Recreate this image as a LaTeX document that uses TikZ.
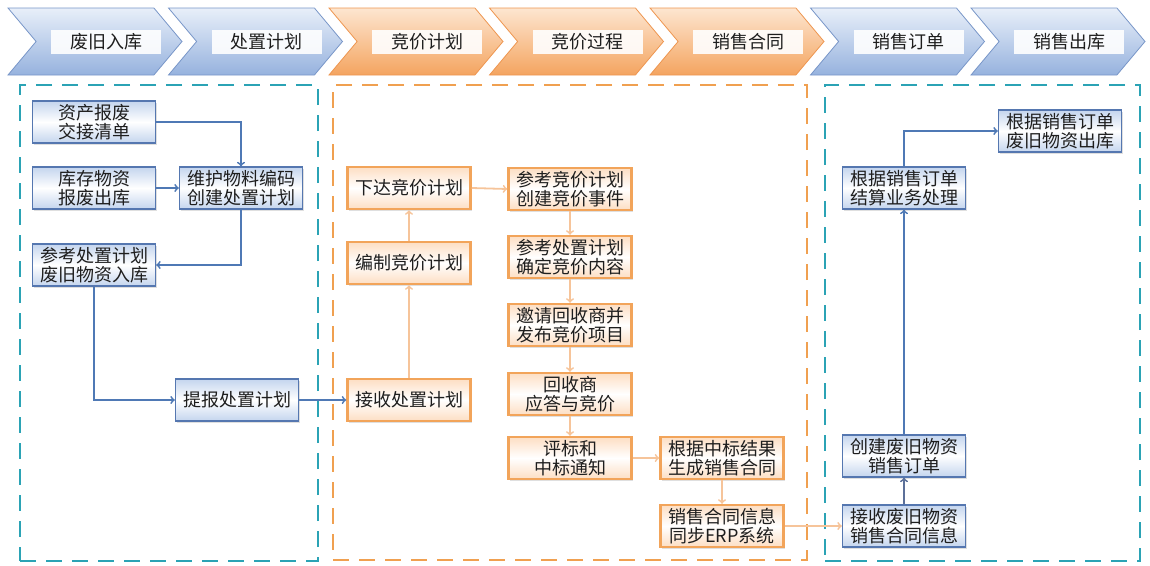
\documentclass[tikz,border=0pt]{standalone}
\usepackage{fontspec}
\setmainfont{Noto Sans CJK SC}
\usepackage{tikz}
\usetikzlibrary{shapes,arrows,positioning,shadows}
\usepackage{xcolor}
\definecolor{chevbluetop}{RGB}{232, 239, 249}
\definecolor{chevbluebot}{RGB}{150, 178, 222}
\definecolor{chevblueline}{RGB}{120, 150, 200}
\definecolor{chevorangetop}{RGB}{253, 230, 208}
\definecolor{chevorangebot}{RGB}{244, 164, 96}
\definecolor{chevorangeline}{RGB}{238, 150, 80}
\definecolor{boxblueline}{RGB}{85, 119, 176}
\definecolor{boxbluefill}{RGB}{196, 213, 238}
\definecolor{boxorangeline}{RGB}{242, 164, 90}
\definecolor{boxorangefill}{RGB}{253, 222, 195}
\definecolor{panelteal}{RGB}{43, 163, 181}
\definecolor{panelorange}{RGB}{240, 160, 80}
\definecolor{arrowblue}{RGB}{79, 121, 181}
\definecolor{arroworange}{RGB}{246, 196, 154}
\definecolor{arrowgrey}{RGB}{92, 112, 153}
\definecolor{textgrey}{RGB}{30, 30, 30}

\begin{document}
\begin{tikzpicture}[
    x=1pt, y=-1pt,
    chev/.style={signal, signal to=east, signal from=west, signal pointer angle=100, minimum width=174pt, minimum height=67pt, inner sep=0pt, line width=0.8pt},
    bluechev/.style={chev, draw=chevblueline, top color=chevbluetop, bottom color=chevbluebot},
    orangechev/.style={chev, draw=chevorangeline, top color=chevorangetop, bottom color=chevorangebot},
    chevtext/.style={rectangle, fill=white, fill opacity=0.9, text opacity=1, text=textgrey, minimum width=110pt, minimum height=24pt, inner sep=0pt, font=\fontsize{18}{19}\selectfont},
    panel/.style={rectangle, line width=2.5pt, dash pattern=on 16pt off 10pt},
    box/.style={rectangle, minimum width=123pt, minimum height=42pt, inner sep=1pt, align=center, text=textgrey, font=\fontsize{18}{19}\selectfont, drop shadow={opacity=0.25, shadow xshift=1.5pt, shadow yshift=-1.5pt}},
    bluebox/.style={box, draw=boxblueline, line width=1.3pt, top color=boxbluefill, bottom color=boxbluefill, middle color=white},
    orangebox/.style={box, draw=boxorangeline, line width=2.5pt, top color=boxorangefill, bottom color=boxorangefill, middle color=white},
    arrow/.style={->, >=to, line width=1.8pt},
    bluearrow/.style={arrow, arrowblue},
    orangearrow/.style={arrow, arroworange},
    greyarrow/.style={arrow, arrowgrey}
]
    \useasboundingbox (0,0) rectangle (1150,565);

    % Stage chevrons
    \node[bluechev] (sWaste) at (95,41.5) {};
    \node[bluechev] (sPlan) at (255.5,41.5) {};
    \node[orangechev] (sBidPlan) at (416,41.5) {};
    \node[orangechev] (sBidding) at (576.5,41.5) {};
    \node[orangechev] (sContract) at (737,41.5) {};
    \node[bluechev] (sOrder) at (897.5,41.5) {};
    \node[bluechev] (sOut) at (1058,41.5) {};

    \node[chevtext] (lWaste) at ([xshift=11pt]sWaste.center) {废旧入库};
    \node[chevtext] (lPlan) at ([xshift=11pt]sPlan.center) {处置计划};
    \node[chevtext] (lBidPlan) at ([xshift=11pt]sBidPlan.center) {竞价计划};
    \node[chevtext] (lBidding) at ([xshift=11pt]sBidding.center) {竞价过程};
    \node[chevtext] (lContract) at ([xshift=11pt]sContract.center) {销售合同};
    \node[chevtext] (lOrder) at ([xshift=11pt]sOrder.center) {销售订单};
    \node[chevtext] (lOut) at ([xshift=11pt]sOut.center) {销售出库};

    % Panels
    \node[panel, draw=panelteal, minimum width=298pt, minimum height=476pt] (pLeft) at (169,323) {};
    \node[panel, draw=panelorange, minimum width=474pt, minimum height=475pt] (pMid) at (570,322.5) {};
    \node[panel, draw=panelteal, minimum width=315pt, minimum height=476pt] (pRight) at (982.5,323) {};

    % Disposal plan
    \node[bluebox] (scrapList) at (94,122) {资产报废\\交接清单};
    \node[bluebox] (stockOut) at (94,188) {库存物资\\报废出库};
    \node[bluebox] (maintain) at (241,188) {维护物料编码\\创建处置计划};
    \node[bluebox] (storeIn) at (94,265) {参考处置计划\\废旧物资入库};
    \node[bluebox] (report) at (237,400) {提报处置计划};

    % Bidding
    \node[orangebox] (issue) at (409,188) {下达竞价计划};
    \node[orangebox] (compile) at (409,263) {编制竞价计划};
    \node[orangebox] (receive) at (409,400) {接收处置计划};
    \node[orangebox] (createEvent) at (570,189) {参考竞价计划\\创建竞价事件};
    \node[orangebox] (content) at (570,257) {参考处置计划\\确定竞价内容};
    \node[orangebox] (invite) at (570,325) {邀请回收商并\\发布竞价项目};
    \node[orangebox] (respond) at (570,394) {回收商\\应答与竞价};
    \node[orangebox] (award) at (570,458) {评标和\\中标通知};
    \node[orangebox] (genContract) at (722,458) {根据中标结果\\生成销售合同};
    \node[orangebox] (syncErp) at (722,526) {销售合同信息\\同步ERP系统};

    % Sales
    \node[bluebox] (outStock) at (1060,131) {根据销售订单\\废旧物资出库};
    \node[bluebox] (settle) at (904,188) {根据销售订单\\结算业务处理};
    \node[bluebox] (createOrder) at (904,456) {创建废旧物资\\销售订单};
    \node[bluebox] (recvContract) at (904,526) {接收废旧物资\\销售合同信息};

    % Flow arrows
    \draw[bluearrow] (scrapList.east) -| (maintain.north);
    \draw[bluearrow] (stockOut.east) -- (maintain.west);
    \draw[bluearrow] (maintain.south) |- (storeIn.east);
    \draw[bluearrow] (storeIn.south) |- (report.west);
    \draw[bluearrow] (report.east) -- (receive.west);

    \draw[orangearrow] (receive.north) -- (compile.south);
    \draw[orangearrow] (compile.north) -- (issue.south);
    \draw[orangearrow] (issue.east) -- (createEvent.west);
    \draw[orangearrow] (createEvent.south) -- (content.north);
    \draw[orangearrow] (content.south) -- (invite.north);
    \draw[orangearrow] (invite.south) -- (respond.north);
    \draw[orangearrow] (respond.south) -- (award.north);
    \draw[orangearrow] (award.east) -- (genContract.west);
    \draw[orangearrow] (genContract.south) -- (syncErp.north);
    \draw[orangearrow] (syncErp.east) -- (recvContract.west);

    \draw[greyarrow] (recvContract.north) -- (createOrder.south);
    \draw[bluearrow] (createOrder.north) -- (settle.south);
    \draw[bluearrow] (settle.north) |- (outStock.west);
\end{tikzpicture}
\end{document}
